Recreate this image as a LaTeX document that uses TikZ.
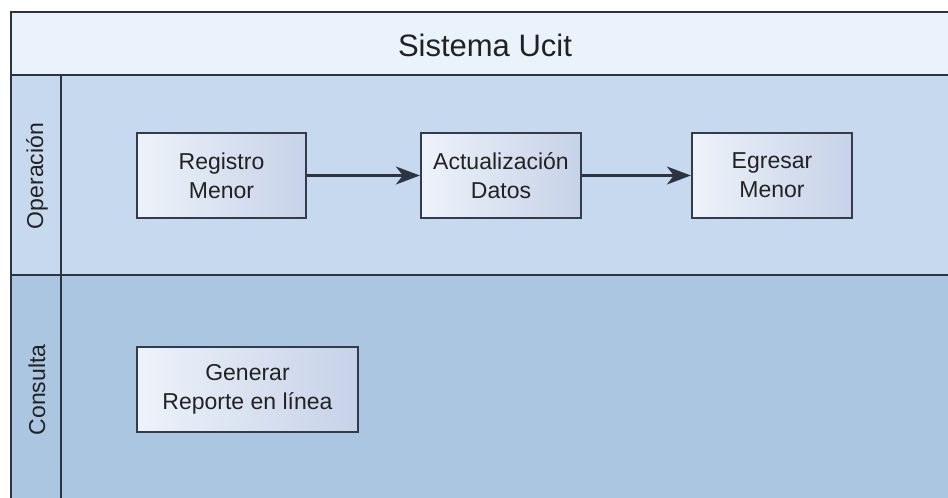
\documentclass[tikz,border=0pt]{standalone}
\usepackage{fontspec}
\setmainfont{Liberation Sans}
\usetikzlibrary{arrows.meta}
\definecolor{framec}{HTML}{2B3440}
\definecolor{titlebg}{HTML}{EAF2FC}
\definecolor{laneone}{HTML}{C6D9EE}
\definecolor{lanetwo}{HTML}{AAC6E1}
\definecolor{boxleft}{HTML}{EEF2FA}
\definecolor{boxright}{HTML}{C6D2E8}
\definecolor{boxline}{HTML}{333C48}
\definecolor{txt}{HTML}{222222}
\tikzset{
  procbox/.style={draw=boxline, line width=2.3pt, left color=boxleft, right color=boxright,
    minimum height=85pt, align=center, inner sep=0pt, text=txt,
    font=\fontsize{23}{29}\selectfont},
  flow/.style={draw=framec, line width=2.3pt, -{Stealth[length=24pt,width=18pt,inset=7pt]}},
  lanelabel/.style={rotate=90, text=txt, font=\fontsize{23}{28}\selectfont},
  frameline/.style={draw=framec, line width=2.2pt}
}
\begin{document}
\begin{tikzpicture}[x=1pt,y=-1pt]
\useasboundingbox (0,0) rectangle (948,498);
\fill[white] (0,0) rectangle (948,498);
% backgrounds
\fill[titlebg] (11,12) rectangle (952,75);
\fill[laneone] (11,75) rectangle (952,275);
\fill[lanetwo] (11,275) rectangle (952,502);
% frame lines
\draw[frameline] (952,12) -- (11,12) -- (11,502);
\draw[frameline] (11,75) -- (952,75);
\draw[frameline] (11,275) -- (952,275);
\draw[frameline] (61,75) -- (61,502);
% title
\node[text=txt, font=\fontsize{31}{36}\selectfont] (title) at (485,45) {Sistema Ucit};
% lane labels
\node[lanelabel] (lop) at (37,176) {Operación};
\node[lanelabel] (lcons) at (37,390) {Consulta};
% process boxes
\node[procbox, minimum width=169pt] (reg) at (221.5,175.5) {Registro\\Menor};
\node[procbox, minimum width=160pt] (act) at (501,175.5) {Actualización\\Datos};
\node[procbox, minimum width=160pt] (egr) at (772,175.5) {Egresar\\Menor};
\node[procbox, minimum width=221pt] (gen) at (247.5,389.5) {Generar\\Reporte en línea};
% connectors
\draw[flow] (reg) -- (act);
\draw[flow] (act) -- (egr);
\end{tikzpicture}
\end{document}
